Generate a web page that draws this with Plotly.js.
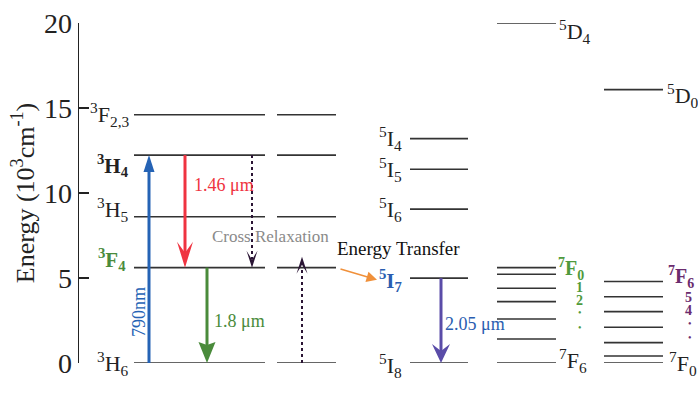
<!DOCTYPE html>
<html>
<head>
<meta charset="utf-8">
<script src="https://cdn.plot.ly/plotly-3.0.1.min.js"></script>
<style>html,body{margin:0;padding:0;background:#fff;}#chart{width:698px;height:394px;}</style>
</head>
<body>
<div id="chart"></div>
<script>
// ---- data (energies in 10^3 cm^-1) ----
const tmLevels   = [0, 5.61, 8.6, 12.23, 14.6];
const tmNames    = ["<sup>3</sup>H<sub>6</sub>", "<b><sup>3</sup>F<sub>4</sub></b>", "<sup>3</sup>H<sub>5</sub>", "<b><sup>3</sup>H<sub>4</sub></b>", "<sup>3</sup>F<sub>2,3</sub>"];
const hoLevels   = [0, 4.99, 9.05, 11.4, 13.2];
const hoNames    = ["<sup>5</sup>I<sub>8</sub>", "<b><sup>5</sup>I<sub>7</sub></b>", "<sup>5</sup>I<sub>6</sub>", "<sup>5</sup>I<sub>5</sub>", "<sup>5</sup>I<sub>4</sub>"];
const tbLevels   = [0, 1.41, 2.59, 3.61, 4.40, 5.22, 5.61];
const tbUpper    = [20.0];
const euLevels   = [0, 0.41, 1.20, 2.10, 3.02, 3.90, 4.79];
const euUpper    = [16.08];
const ionLabels  = ["Tm<sup>3+</sup>", "Tm<sup>3+</sup>", "Ho<sup>3+</sup>", "Tb<sup>3+</sup>", "Eu<sup>3+</sup>"];
const yTicks     = [0, 5, 10, 15, 20];
const transLabels = {pump: "790nm", t146: "1.46 μm", t18: "1.8 μm", t205: "2.05 μm", cr: "Cross Relaxation", et: "Energy Transfer"};

// ---- layout geometry (x in page-pixel units) ----
const col = {tm1: [134, 265], tm2: [277, 336], ho: [410, 468], tb: [497, 556], eu: [604, 663]};
const serif = "'Liberation Serif', 'Times New Roman', serif";
const C = {level: "#333333", blue: "#2563b5", red: "#ef3340", green: "#4a8b3b", hoArrow: "#5a4ca8",
           dark: "#2b1535", orange: "#f0903a", hoText: "#2a5db0", tbText: "#4f9a3c", euText: "#6b2c6e", grey: "#8a8a8a"};

function levelTrace(levels, xr) {
  const x = [], y = [];
  levels.forEach(e => { x.push(xr[0], xr[1], null); y.push(e, e, null); });
  return {type: "scatter", mode: "lines", x: x, y: y, line: {color: C.level, width: 1.6},
          hoverinfo: "skip", showlegend: false, cliponaxis: false};
}
function shaft(xv, e0, e1, color, width, dash) {
  return {type: "scatter", mode: "lines", x: [xv, xv], y: [e0, e1],
          line: {color: color, width: width, dash: dash || "solid"}, hoverinfo: "skip", showlegend: false, cliponaxis: false};
}
function head(xv, e, path, color) {
  return {type: "path", xref: "x", yref: "y", xsizemode: "pixel", ysizemode: "pixel",
          xanchor: xv, yanchor: e, path: path, fillcolor: color, line: {width: 0}, layer: "above"};
}
function ann(x, y, text, o) {
  o = o || {};
  return {x: x, y: y, xref: "x", yref: "y", text: text, showarrow: false,
    font: {family: serif, size: o.size || 22, color: o.color || "#222"},
    xanchor: o.xa || "center", yanchor: "middle", yshift: o.ys || 0, xshift: o.xs || 0,
    textangle: o.angle || 0};
}

const xPump = 149, x146 = 185, x18 = 207, xCRd = 252, xCRu = 302, xHo = 441;

const traces = [
  levelTrace(tmLevels, col.tm1),
  levelTrace(tmLevels, col.tm2),
  levelTrace(hoLevels, col.ho),
  levelTrace(tbLevels.concat(tbUpper), col.tb),
  levelTrace(euLevels.concat(euUpper), col.eu),
  shaft(xPump, tmLevels[0], tmLevels[3] - 0.6, C.blue, 3),
  shaft(x146, tmLevels[3], tmLevels[1] + 0.6, C.red, 3),
  shaft(x18, tmLevels[1], tmLevels[0] + 0.6, C.green, 3),
  shaft(xCRd, tmLevels[3], tmLevels[1] + 0.5, C.dark, 2, "3px,3px"),
  shaft(xCRu, tmLevels[0], tmLevels[1], C.dark, 2, "3px,3px"),
  shaft(xHo, hoLevels[1], hoLevels[0] + 0.6, C.hoArrow, 3)
];

const shapes = [
  head(xPump, tmLevels[3], "M0,0 L-5.5,-17 L5.5,-17 Z", C.blue),
  head(x146, tmLevels[1], "M0,0 L-8,26 L0,15 L8,26 Z", C.red),
  head(x18, tmLevels[0], "M0,0 L-8.5,21 L0,18 L8.5,21 Z", C.green),
  head(xCRd, tmLevels[1], "M0,0 L-5.5,17 L0,8 L5.5,17 Z", C.dark),
  head(xCRu, tmLevels[1], "M0,11 L-5.5,-6 L0,3 L5.5,-6 Z", C.dark),
  head(xHo, hoLevels[0], "M0,0 L-9,19 L0,12 L9,19 Z", C.hoArrow)
];

const annotations = [];
// Tm level labels
const tmShift = [0, 8, 7, -10, 0];
const tmColor = ["#222", C.green, "#222", "#222", "#222"];
tmLevels.forEach((e, i) => annotations.push(ann(i === 1 ? 128 : 131, e, tmNames[i],
  {xa: "right", ys: tmShift[i], color: tmColor[i], size: (i === 1 || i === 3) ? 21 : 22})));
// Ho level labels
const hoShift = [-2, -2, 0, 0, 0];
hoLevels.forEach((e, i) => annotations.push(ann(404, e, hoNames[i],
  {xa: "right", ys: hoShift[i], color: i === 1 ? C.hoText : "#222", size: i === 1 ? 21 : 22})));
// Tb labels
annotations.push(ann(557, tbUpper[0], "<sup>5</sup>D<sub>4</sub>", {xa: "left", ys: -8, size: 22}));
annotations.push(ann(556, tbLevels[6], "<b><sup>7</sup>F<sub>0</sub></b>", {xa: "left", ys: -1, size: 20, color: C.tbText}));
annotations.push(ann(579, tbLevels[4], "<b>1</b>", {size: 14, color: C.tbText, ys: 1}));
annotations.push(ann(579, tbLevels[3], "<b>2</b>", {size: 14, color: C.tbText, ys: 1}));
annotations.push(ann(580, 2.95, "•", {size: 10, color: C.tbText}));
annotations.push(ann(580, 2.1, "•", {size: 10, color: C.tbText}));
annotations.push(ann(557, tbLevels[0], "<sup>7</sup>F<sub>6</sub>", {xa: "left", ys: 3, size: 22}));
// Eu labels
annotations.push(ann(665, euUpper[0], "<sup>5</sup>D<sub>0</sub>", {xa: "left", ys: -6, size: 22}));
annotations.push(ann(666, euLevels[6], "<b><sup>7</sup>F<sub>6</sub></b>", {xa: "left", ys: 5, size: 20, color: C.euText}));
annotations.push(ann(688, euLevels[5], "<b>5</b>", {size: 14, color: C.euText, ys: -1}));
annotations.push(ann(688, euLevels[4], "<b>4</b>", {size: 14, color: C.euText, ys: 1}));
annotations.push(ann(690, 2.35, "•", {size: 10, color: C.euText}));
annotations.push(ann(690, 1.5, "•", {size: 10, color: C.euText}));
annotations.push(ann(667, euLevels[0], "<sup>7</sup>F<sub>0</sub>", {xa: "left", ys: 0, size: 22}));
// ion labels
const ionX = [198, 313, 444, 534, 633];
const ionColor = ["#222", "#222", C.hoText, C.tbText, C.euText];
ionLabels.forEach((t, i) => annotations.push(ann(ionX[i], -1.35, t, {size: 22, color: ionColor[i]})));
// transition labels
annotations.push(ann(139, 3.0, transLabels.pump, {size: 18, color: C.blue, angle: -90}));
annotations.push(ann(192, 10.45, transLabels.t146, {xa: "left", size: 18, color: C.red}));
annotations.push(ann(212, 2.47, transLabels.t18, {xa: "left", size: 18, color: C.green}));
annotations.push(ann(443, 2.3, transLabels.t205, {xa: "left", size: 18, color: C.hoText}));
annotations.push(ann(270, 7.47, transLabels.cr, {size: 17, color: C.grey}));
annotations.push(ann(398, 6.76, transLabels.et, {size: 19, color: "#111"}));
// energy transfer arrow
annotations.push({x: 377, y: hoLevels[1] - 0.1, ax: 339, ay: tmLevels[1] - 0.05, xref: "x", yref: "y", axref: "x", ayref: "y",
  text: "", showarrow: true, arrowhead: 2, arrowsize: 1.4, arrowwidth: 1.5, arrowcolor: C.orange, standoff: 0});

const layout = {
  width: 698, height: 394,
  margin: {l: 79, r: 0, t: 23, b: 31, pad: 0},
  paper_bgcolor: "#fff", plot_bgcolor: "#fff",
  showlegend: false,
  xaxis: {range: [79, 698], visible: false, fixedrange: true},
  yaxis: {range: [0, 20], tickvals: yTicks, ticktext: yTicks.map(String),
    ticks: "inside", ticklen: 10, tickwidth: 1.5, tickcolor: "#222",
    showline: true, linecolor: "#222", linewidth: 1.5, showgrid: false, zeroline: false,
    tickfont: {family: serif, size: 28, color: "#222"}, ticklabelstandoff: 0,
    title: {text: "Energy (10<sup>3</sup>cm<sup>-1</sup>)", font: {family: serif, size: 26, color: "#222"}, standoff: 2},
    fixedrange: true},
  shapes: shapes,
  annotations: annotations
};

Plotly.newPlot("chart", traces, layout, {displayModeBar: false, staticPlot: true});
</script>
</body>
</html>
